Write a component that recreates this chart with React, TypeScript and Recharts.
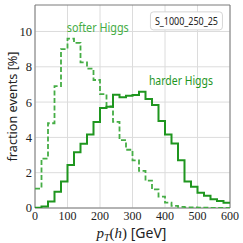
import React from "react";
import { LineChart, Line, XAxis, YAxis, CartesianGrid, ReferenceArea, ReferenceDot, Label } from "recharts";

const binEdges = [0, 20, 40, 60, 80, 100, 120, 140, 160, 180, 200, 220, 240, 260, 280, 300, 320, 340, 360, 380, 400, 420, 440, 460, 480, 500, 520, 540, 560, 580, 600];
const softerHiggs = [1.1, 2.8, 4.8, 6.9, 9.0, 9.6, 9.35, 8.25, 7.9, 7.25, 6.45, 5.75, 4.88, 3.85, 3.3, 2.7, 2.1, 1.55, 1.05, 0.65, 0.3, 0.12, 0.06, 0.04, 0.03, 0.02, 0.02, 0.01, 0.01, 0.01];
const harderHiggs = [0.02, 0.08, 0.37, 0.92, 1.5, 2.44, 3.16, 3.64, 4.17, 4.87, 5.67, 5.73, 6.42, 6.27, 6.36, 6.4, 6.59, 6.17, 5.83, 4.93, 4.16, 3.66, 2.7, 1.5, 1.21, 0.86, 0.7, 0.5, 0.4, 0.3];
const xTicks = [0, 100, 200, 300, 400, 500, 600];
const yTicks = [0, 2, 4, 6, 8, 10];
const benchmarkLabel = "S_1000_250_25";
const softerLabel = "softer Higgs";
const harderLabel = "harder Higgs";

const data = binEdges.map((e, i) => ({
  x: e,
  soft: softerHiggs[Math.min(i, softerHiggs.length - 1)],
  hard: harderHiggs[Math.min(i, harderHiggs.length - 1)],
}));

const SOFT = "#45ad45";
const HARD = "#1f961f";
const SANS = "'Noto Sans', 'DejaVu Sans', sans-serif";
const SERIF = "'Liberation Serif', 'DejaVu Serif', serif";

const TextShape = (text: string, color: string, width: number) => (props: any) => (
  <text x={props.cx} y={props.cy} textAnchor="middle" dominantBaseline="central" fill={color}
    fontFamily={SANS} fontSize={12} textLength={width} lengthAdjust="spacingAndGlyphs">{text}</text>
);

const BoxShape = (props: any) => (
  <g>
    <rect x={props.cx - 36} y={props.cy - 9} width={72} height={18} rx={3} ry={3} fill="#fff" stroke="#d6d6d6" strokeWidth={1} />
    <text x={props.cx} y={props.cy} textAnchor="middle" dominantBaseline="central" fill="#222"
      fontFamily={SANS} fontSize={10.5} textLength={63} lengthAdjust="spacingAndGlyphs">{benchmarkLabel}</text>
  </g>
);

const YLabel = (props: any) => {
  const vb = props.viewBox;
  const cx = vb.x + 12;
  const cy = vb.y + vb.height / 2;
  return (
    <text x={cx} y={cy} transform={`rotate(-90 ${cx} ${cy})`} textAnchor="middle" dominantBaseline="central"
      fill="#222" fontFamily={SANS} fontSize={13} textLength={110} lengthAdjust="spacingAndGlyphs">fraction events [%]</text>
  );
};

const XLabel = (props: any) => {
  const vb = props.viewBox;
  const cx = vb.x + vb.width / 2 - 1;
  const y = vb.y + 30;
  return (
    <text x={cx} y={y} textAnchor="middle" fill="#222" fontSize={15}>
      <tspan fontFamily={SERIF} fontStyle="italic">p</tspan>
      <tspan fontFamily={SERIF} fontStyle="italic" fontSize={10} dy={3}>T</tspan>
      <tspan fontFamily={SERIF} dy={-3}>(</tspan>
      <tspan fontFamily={SERIF} fontStyle="italic">h</tspan>
      <tspan fontFamily={SERIF}>)</tspan>
      <tspan fontFamily={SANS} fontSize={14}> [GeV]</tspan>
    </text>
  );
};

export default function App() {
  return (
    <div style={{ position: "absolute", left: 0, top: 0, width: 243, height: 243, background: "#fff" }}>
      <LineChart width={243} height={243} data={data} margin={{ top: 5, right: 13, left: 0, bottom: 0 }}>
        <CartesianGrid stroke="#dcdcdc" strokeWidth={1} verticalValues={xTicks} horizontalValues={yTicks} />
        <XAxis dataKey="x" type="number" domain={[0, 600]} ticks={xTicks} height={35} tickSize={0} tickMargin={3}
          axisLine={false} tickLine={false} interval={0} allowDataOverflow
          tick={{ fontFamily: SERIF, fontSize: 12, fill: "#222" }}>
          <Label content={XLabel} />
        </XAxis>
        <YAxis type="number" domain={[0, 11.5]} ticks={yTicks} width={35} tickSize={0} tickMargin={3}
          axisLine={false} tickLine={false} interval={0} allowDataOverflow
          tick={{ fontFamily: SERIF, fontSize: 12.5, fill: "#222" }}>
          <Label content={YLabel} />
        </YAxis>
        <Line type="stepAfter" dataKey="soft" stroke={SOFT} strokeWidth={1.8} strokeDasharray="5 2.5" dot={false} activeDot={false} isAnimationActive={false} />
        <Line type="stepAfter" dataKey="hard" stroke={HARD} strokeWidth={2} dot={false} activeDot={false} isAnimationActive={false} />
        <ReferenceArea x1={0} x2={600} y1={0} y2={11.5} fill="none" stroke="#7a7a7a" strokeWidth={1} />
        <ReferenceDot x={193} y={10.25} r={0} shape={TextShape(softerLabel, SOFT, 62)} />
        <ReferenceDot x={449} y={7.22} r={0} shape={TextShape(harderLabel, HARD, 64)} />
        <ReferenceDot x={466} y={10.6} r={0} shape={BoxShape} />
      </LineChart>
    </div>
  );
}
